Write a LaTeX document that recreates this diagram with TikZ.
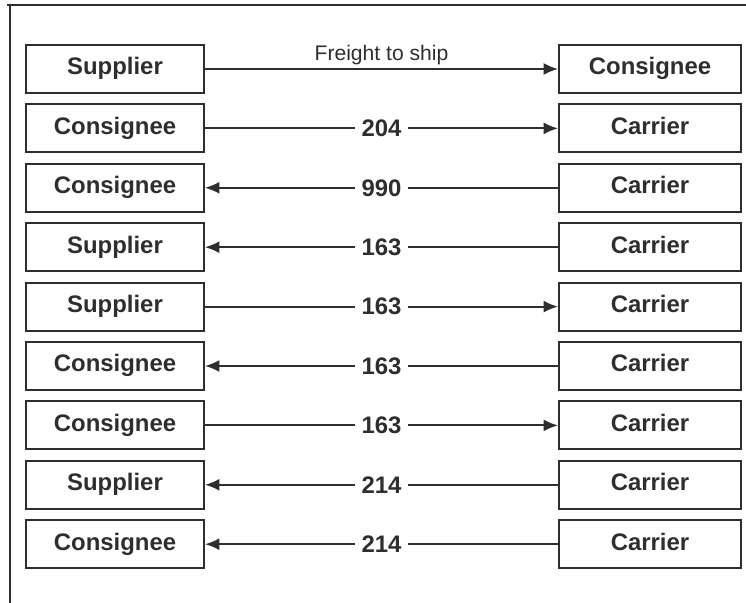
\documentclass[tikz,border=0pt]{standalone}
\usepackage{fontspec}
\setmainfont{Liberation Sans}
\usetikzlibrary{arrows.meta}
\definecolor{ink}{HTML}{2E2E2E}
\begin{document}
\begin{tikzpicture}[x=0.025cm, y=-0.025cm]
		\tikzstyle{every node}=[font=\fontsize{17pt}{20pt}\selectfont\bfseries, text=ink]
		\tikzstyle{leftbox}=[draw=ink, line width=1.4pt, minimum width=4.45cm, minimum height=1.2cm, inner sep=0pt, text height=0.43cm, text depth=0.13cm]
		\tikzstyle{rightbox}=[draw=ink, line width=1.4pt, minimum width=4.55cm, minimum height=1.2cm, inner sep=0pt, text height=0.43cm, text depth=0.13cm]
		\tikzstyle{flow}=[draw=ink, line width=1.3pt, -{Latex[length=0.36cm, width=0.3cm]}]
		\tikzstyle{flowback}=[draw=ink, line width=1.3pt, {Latex[length=0.36cm, width=0.3cm]}-]
		\tikzstyle{msg}=[fill=white, inner xsep=0.17cm, inner ysep=0.05cm]
		
		\useasboundingbox (0,0) rectangle (746,603);
		
		% frame
		\draw[ink, line width=1.3pt] (7,5) -- (746,5);
		\draw[ink, line width=1.3pt] (10,5) -- (10,603);
		
		% parties
		\node[leftbox] (left1) at (115,69) {Supplier};
		\node[rightbox] (right1) at (650,69) {Consignee};
		\node[leftbox] (left2) at (115,128.4) {Consignee};
		\node[rightbox] (right2) at (650,128.4) {Carrier};
		\node[leftbox] (left3) at (115,187.8) {Consignee};
		\node[rightbox] (right3) at (650,187.8) {Carrier};
		\node[leftbox] (left4) at (115,247.2) {Supplier};
		\node[rightbox] (right4) at (650,247.2) {Carrier};
		\node[leftbox] (left5) at (115,306.6) {Supplier};
		\node[rightbox] (right5) at (650,306.6) {Carrier};
		\node[leftbox] (left6) at (115,366) {Consignee};
		\node[rightbox] (right6) at (650,366) {Carrier};
		\node[leftbox] (left7) at (115,425.4) {Consignee};
		\node[rightbox] (right7) at (650,425.4) {Carrier};
		\node[leftbox] (left8) at (115,484.8) {Supplier};
		\node[rightbox] (right8) at (650,484.8) {Carrier};
		\node[leftbox] (left9) at (115,544.2) {Consignee};
		\node[rightbox] (right9) at (650,544.2) {Carrier};
		
		% messages
		\draw[flow] (left1) -- (right1)
		node[pos=0.5, above, inner sep=0.08cm, font=\fontsize{15pt}{18pt}\selectfont]{Freight to ship};
		\draw[flow] (left2) -- (right2) node[pos=0.5, msg]{204};
		\draw[flowback] (left3) -- (right3) node[pos=0.5, msg]{990};
		\draw[flowback] (left4) -- (right4) node[pos=0.5, msg]{163};
		\draw[flow] (left5) -- (right5) node[pos=0.5, msg]{163};
		\draw[flowback] (left6) -- (right6) node[pos=0.5, msg]{163};
		\draw[flow] (left7) -- (right7) node[pos=0.5, msg]{163};
		\draw[flowback] (left8) -- (right8) node[pos=0.5, msg]{214};
		\draw[flowback] (left9) -- (right9) node[pos=0.5, msg]{214};
		
	\end{tikzpicture}
\end{document}
